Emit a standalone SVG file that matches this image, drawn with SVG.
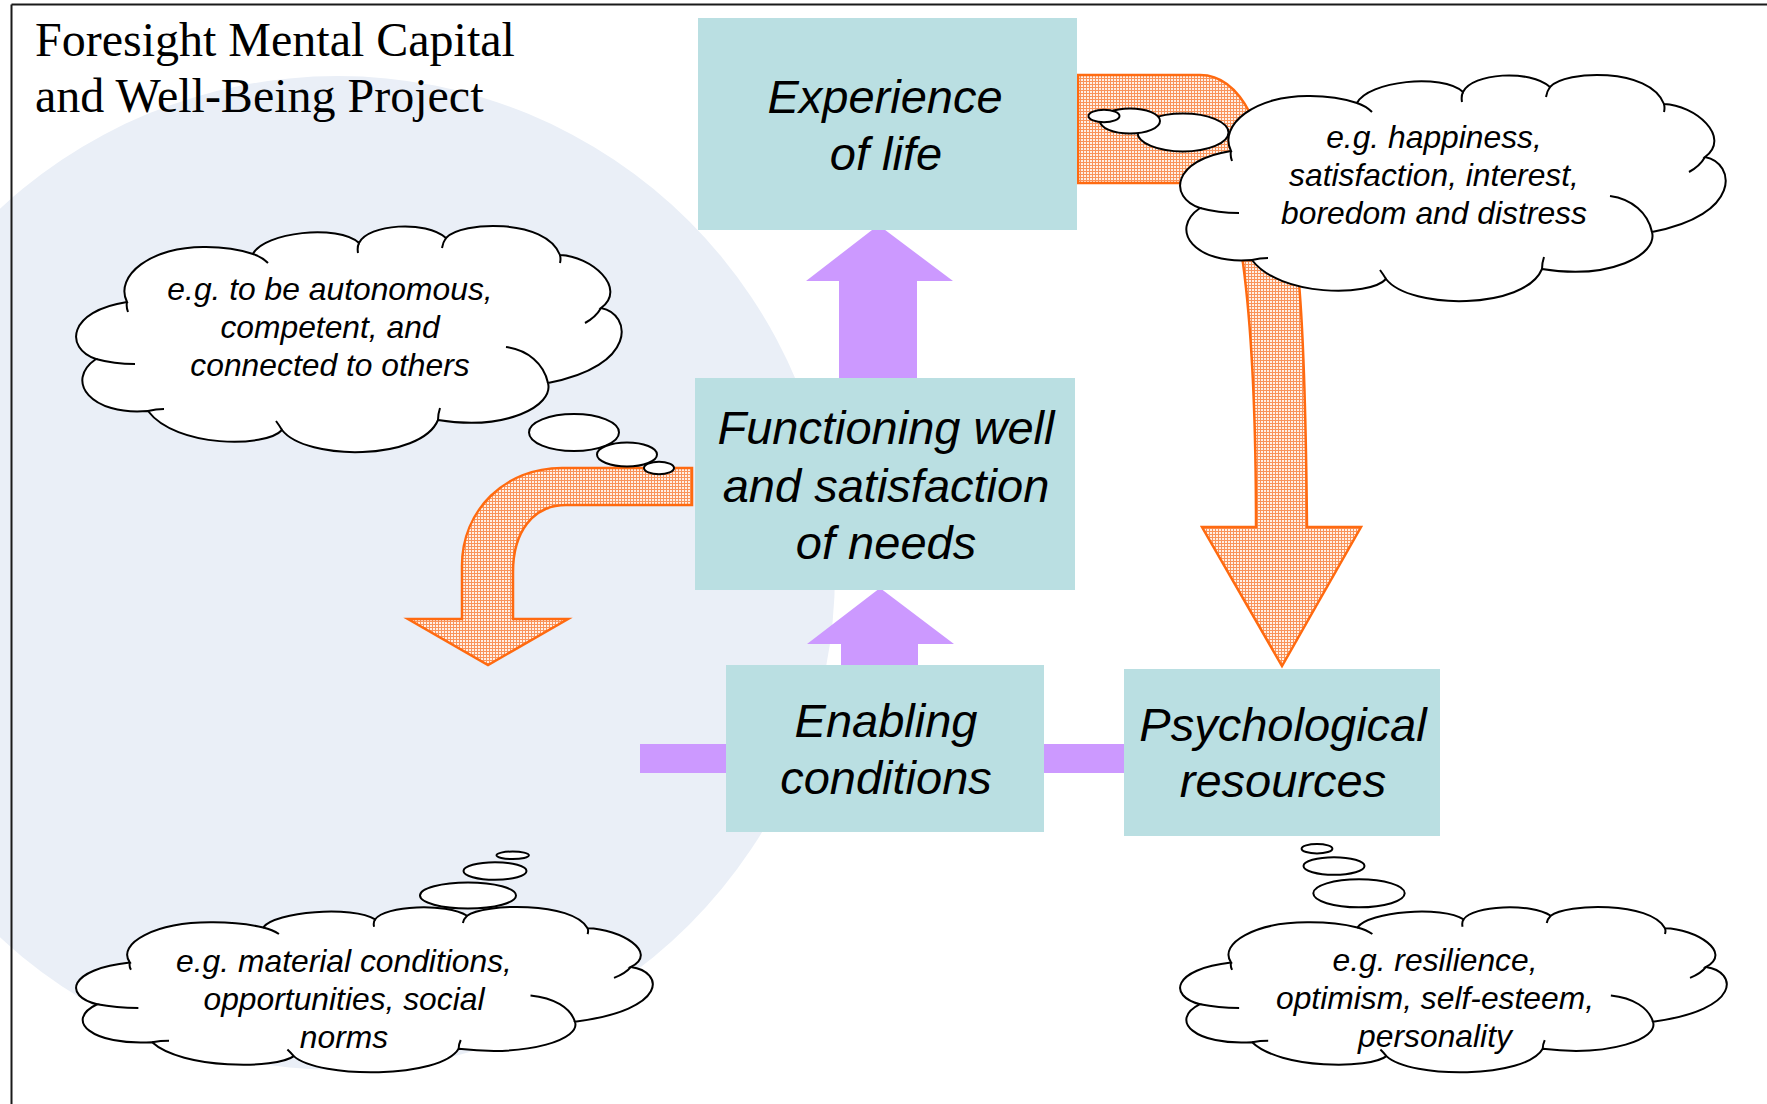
<svg xmlns="http://www.w3.org/2000/svg" xmlns:xlink="http://www.w3.org/1999/xlink" width="1767" height="1104" viewBox="0 0 1767 1104">
  <defs>
    <style>
      .box { fill: #BADFE2; }
      .boxtxt { font-family: "Liberation Sans", Arial, sans-serif; font-style: italic; font-size: 47px; fill: #000; text-anchor: middle; }
      .cloudtxt { font-family: "Liberation Sans", Arial, sans-serif; font-style: italic; font-size: 31.8px; fill: #000; text-anchor: middle; }
      .title { font-family: "Liberation Serif", "Times New Roman", serif; font-size: 48px; fill: #000; }
      .purple { fill: #CC99FF; }
      .orange { fill: url(#grid); stroke: #FF6A10; stroke-width: 2.5; stroke-linejoin: miter; }
      .cloud { fill: #FFFFFF; stroke: #000; stroke-width: 2; vector-effect: non-scaling-stroke; }
      .hook { fill: none; stroke: #000; stroke-width: 2; vector-effect: non-scaling-stroke; }
      .bubble { fill: #FFFFFF; stroke: #000; stroke-width: 2; }
    </style>
    <pattern id="grid" width="3" height="3" patternUnits="userSpaceOnUse">
      <rect width="3" height="3" fill="#FFF0E6"/>
      <rect width="3" height="1" fill="#F9935A"/>
      <rect width="1" height="3" fill="#F9935A"/>
    </pattern>
    <g id="cloudShape">
      <path class="cloud" d="M 51,76 C 38,50 75,20 130,21 C 152,21 168,25 177,28 C 188,6 262,-2 283,17 C 292,-2 350,-6 370,12 C 385,-5 470,-8 484,29 C 515,30 552,62 525,82 C 556,88 562,140 472,157 C 478,180 430,205 362,194 C 345,235 230,235 206,204 C 190,222 100,222 72,185 C 15,190 -12,155 20,133 C -12,122 -8,85 51,76 Z"/>
      <path class="hook" d="M 51,76 Q 50,81 52,86 M 177,28 Q 186,31 192,37 M 283,17 Q 281,21 282,27 M 370,12 Q 367,16 366,22 M 484,29 Q 485,33 484,37 M 525,82 Q 520,91 509,97 M 430,121 C 452,124 468,138 472,157 M 362,194 Q 362,188 364,182 M 206,204 Q 203,199 200,195 M 72,185 Q 80,183 88,183 M 59,138 Q 38,138 20,133"/>
    </g>
  </defs>

  <rect x="0" y="0" width="1767" height="1104" fill="#FFFFFF"/>
  <circle cx="338" cy="573" r="497" fill="#EAEFF7"/>
  <g id="frame" stroke="#1A1A1A" stroke-width="2">
    <line x1="11.5" y1="4.5" x2="1767" y2="4.5"/>
    <line x1="11.5" y1="4.5" x2="11.5" y2="1104"/>
  </g>

  <g id="title">
    <text class="title" x="35" y="55.5">Foresight Mental Capital</text>
    <text class="title" x="35" y="112">and Well-Being Project</text>
  </g>

  <g id="connectors">
    <path id="arrow-needs-out" class="orange" d="M 692,468 L 562,468 C 505,468 462,510 462,566 L 462,619 L 408,619 L 488,665 L 568,619 L 513,619 L 513,572 C 513,532 533,505 566,505 L 692,505 Z"/>
    <path id="arrow-experience-psych" class="orange" d="M 1078,75 L 1200,75 C 1222,75 1238,90 1250,113 C 1280,170 1296,230 1299,283 C 1303,330 1306,420 1307,527 L 1361,527 L 1282,666 L 1202,527 L 1256,527 C 1256,430 1252,330 1243,263 C 1235,215 1215,183 1180,183 L 1078,183 Z"/>
    <path id="arrow-func-exp" class="purple" d="M 839,378 L 839,281 L 806,281 L 878.5,225 L 953,281 L 917,281 L 917,378 Z"/>
    <path id="arrow-enab-func" class="purple" d="M 841,665 L 841,644 L 807,644 L 880,588 L 954,644 L 918,644 L 918,665 Z"/>
    <rect id="bar-left" class="purple" x="640" y="744" width="86" height="29"/>
    <rect id="bar-right" class="purple" x="1043" y="744" width="81" height="29"/>
  </g>

  <g id="node-experience">
    <rect class="box" x="698" y="18" width="379" height="212"/>
    <text class="boxtxt" x="885" y="112.5">Experience</text>
    <text class="boxtxt" x="886" y="169.5">of life</text>
  </g>
  <g id="node-functioning">
    <rect class="box" x="695" y="378" width="380" height="212"/>
    <text class="boxtxt" x="886" y="444">Functioning well</text>
    <text class="boxtxt" x="886" y="501.5">and satisfaction</text>
    <text class="boxtxt" x="886" y="559">of needs</text>
  </g>
  <g id="node-enabling">
    <rect class="box" x="726" y="665" width="318" height="167"/>
    <text class="boxtxt" x="886" y="737">Enabling</text>
    <text class="boxtxt" x="886" y="794">conditions</text>
  </g>
  <g id="node-psychological">
    <rect class="box" x="1124" y="669" width="316" height="167"/>
    <text class="boxtxt" x="1283" y="741">Psychological</text>
    <text class="boxtxt" x="1283" y="797">resources</text>
  </g>

  <g id="cloud-needs">
    <use xlink:href="#cloudShape" href="#cloudShape" transform="translate(76,226)"/>
    <ellipse class="bubble" cx="574" cy="432.5" rx="45" ry="18.5"/>
    <ellipse class="bubble" cx="627" cy="454.5" rx="30" ry="12"/>
    <ellipse class="bubble" cx="659" cy="468" rx="15" ry="6.2"/>
    <text class="cloudtxt" x="330" y="300">e.g. to be autonomous,</text>
    <text class="cloudtxt" x="330" y="338">competent, and</text>
    <text class="cloudtxt" x="330" y="376">connected to others</text>
  </g>

  <g id="cloud-experience">
    <ellipse class="bubble" cx="1183" cy="132.5" rx="45.5" ry="19"/>
    <ellipse class="bubble" cx="1130" cy="121" rx="30" ry="12.5"/>
    <ellipse class="bubble" cx="1104" cy="116" rx="15.5" ry="6.2"/>
    <use xlink:href="#cloudShape" href="#cloudShape" transform="translate(1180,75)"/>
    <text class="cloudtxt" x="1434" y="148">e.g. happiness,</text>
    <text class="cloudtxt" x="1434" y="186">satisfaction, interest,</text>
    <text class="cloudtxt" x="1434" y="224">boredom and distress</text>
  </g>

  <g id="cloud-enabling">
    <ellipse class="bubble" cx="468" cy="895.5" rx="48" ry="13"/>
    <ellipse class="bubble" cx="495" cy="871" rx="31.5" ry="8.8"/>
    <ellipse class="bubble" cx="512.7" cy="855.3" rx="16.2" ry="3.8"/>
    <use xlink:href="#cloudShape" href="#cloudShape" transform="translate(76,907) scale(1.057,0.731)"/>
    <text class="cloudtxt" x="344" y="972">e.g. material conditions,</text>
    <text class="cloudtxt" x="344" y="1010">opportunities, social</text>
    <text class="cloudtxt" x="344" y="1048">norms</text>
  </g>

  <g id="cloud-psychological">
    <ellipse class="bubble" cx="1359" cy="893.3" rx="45.7" ry="14"/>
    <ellipse class="bubble" cx="1334" cy="866" rx="30.5" ry="8.8"/>
    <ellipse class="bubble" cx="1317" cy="848.7" rx="15.4" ry="4.7"/>
    <use xlink:href="#cloudShape" href="#cloudShape" transform="translate(1180,907) scale(1.002,0.731)"/>
    <text class="cloudtxt" x="1435" y="971">e.g. resilience,</text>
    <text class="cloudtxt" x="1435" y="1009">optimism, self-esteem,</text>
    <text class="cloudtxt" x="1435" y="1047">personality</text>
  </g>
</svg>
